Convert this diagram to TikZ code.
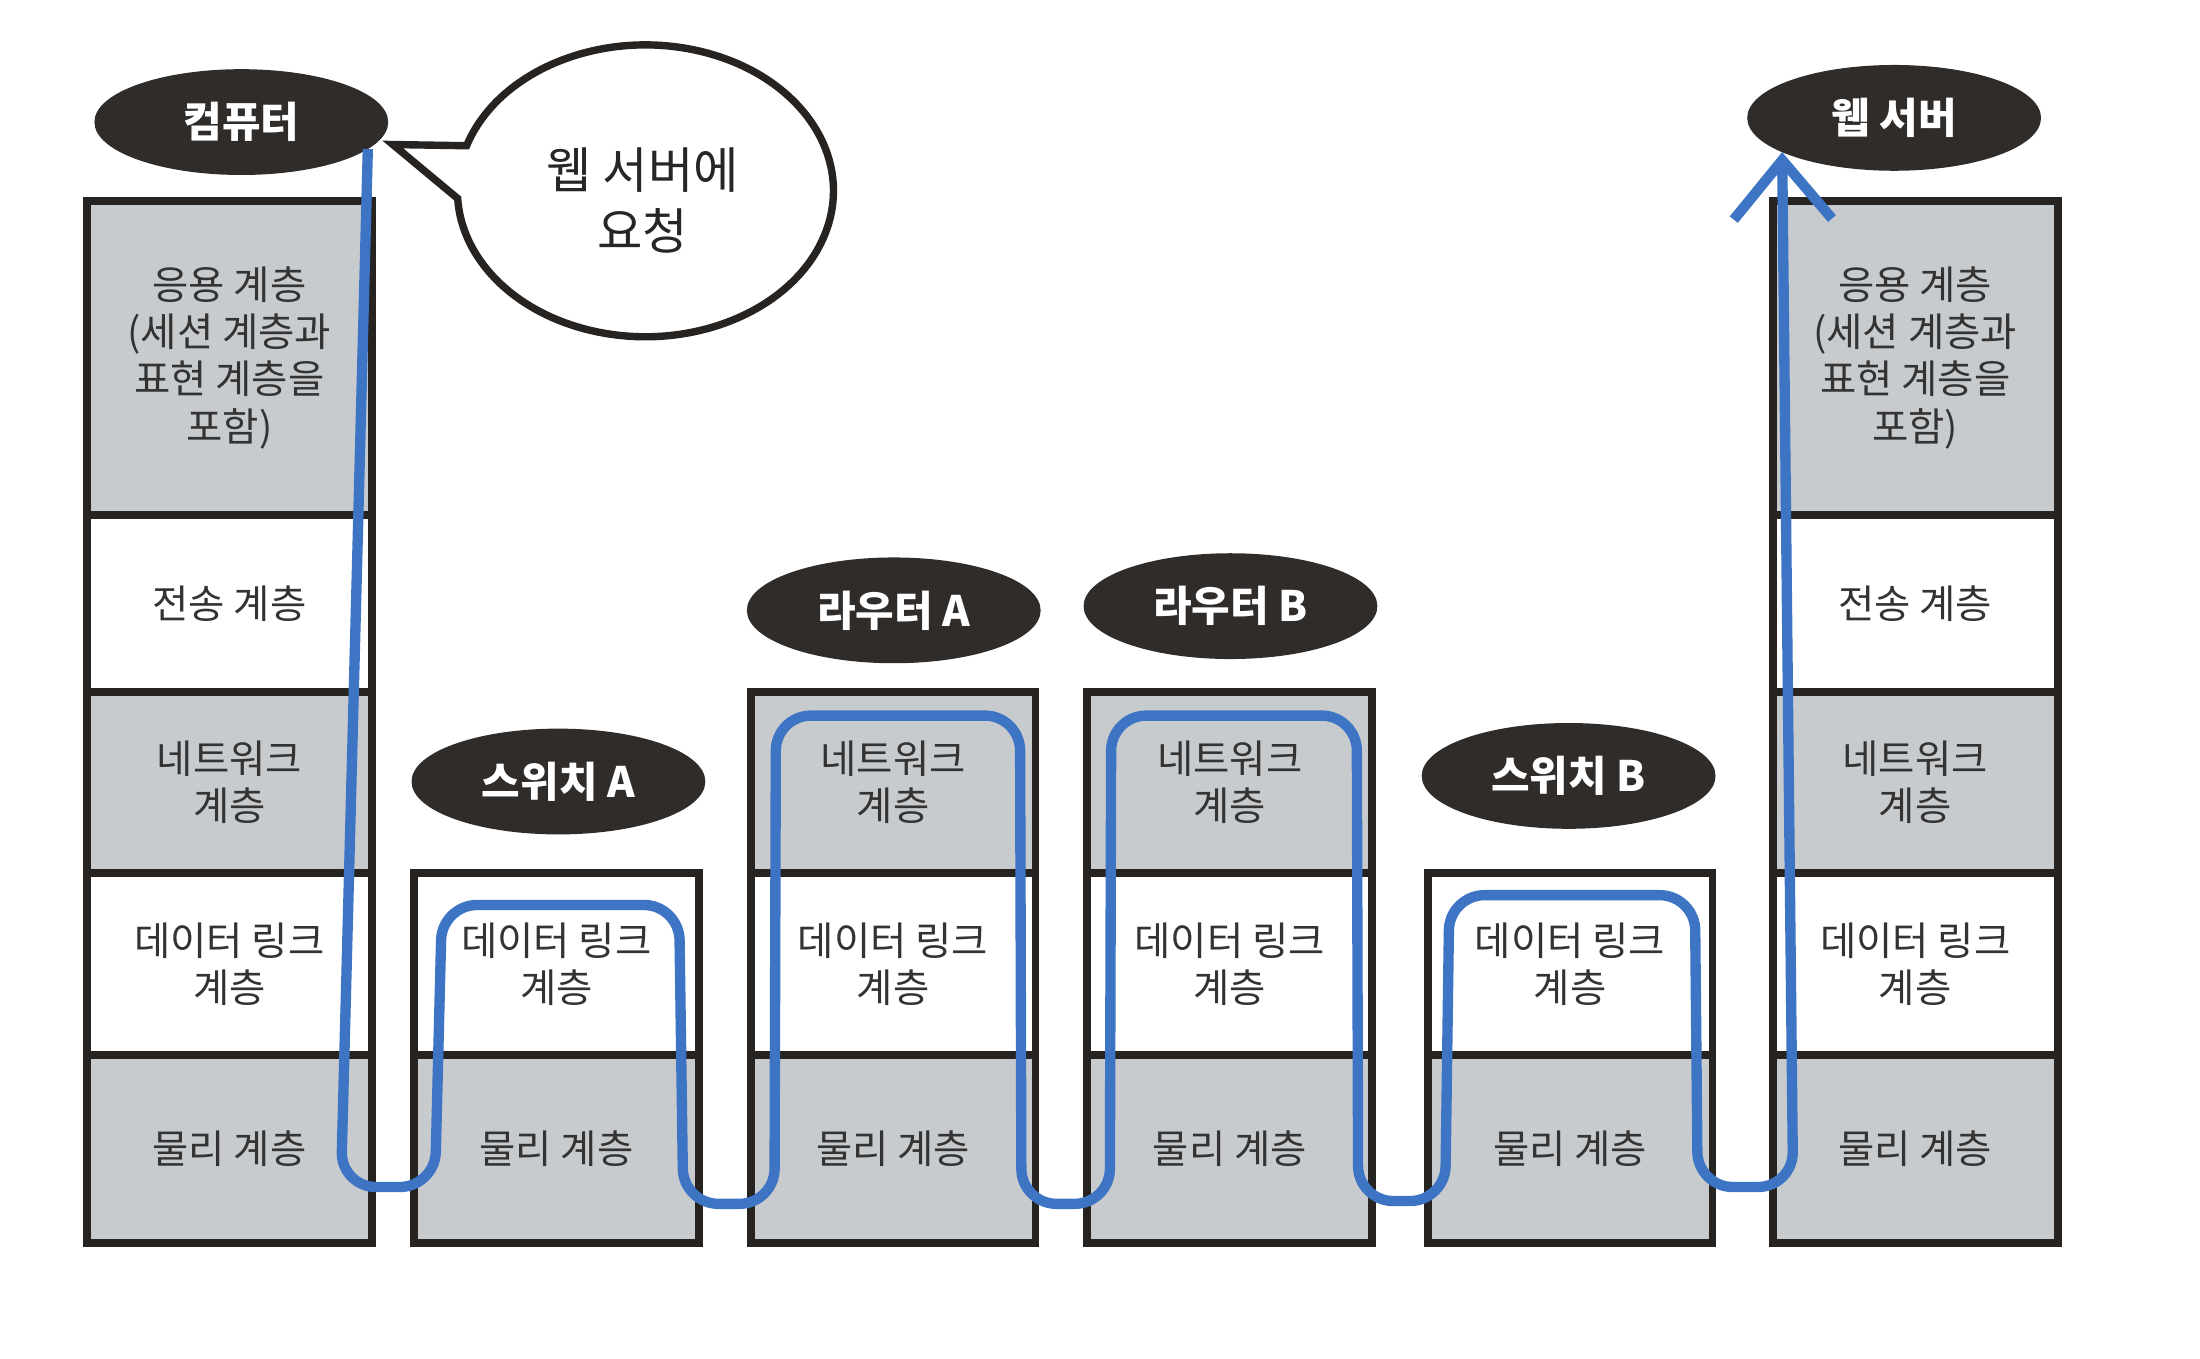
\documentclass[tikz,border=0pt]{standalone}
\usepackage{fontspec}
\setmainfont{Noto Sans CJK KR}
\usetikzlibrary{shapes.geometric,arrows.meta,calc}

\definecolor{inkblack}{RGB}{38,35,33}
\definecolor{layergray}{RGB}{200,203,206}
\definecolor{pathblue}{RGB}{62,116,196}
\definecolor{tagfill}{RGB}{48,44,42}

\begin{document}
\begin{tikzpicture}[x=0.1mm,y=-0.1mm]
	\tikzstyle{every node}+=[inner sep=0pt]
	\tikzstyle{layer}=[draw=inkblack, line width=1.6pt, minimum width=20.3mm, align=center, text=black!80, font=\fontsize{8}{9.6}\selectfont]
	\tikzstyle{shaded}=[layer, fill=layergray]
	\tikzstyle{plain}=[layer, fill=white]
	\tikzstyle{tag}=[ellipse, fill=tagfill, draw=tagfill, text=white, minimum width=20.8mm, minimum height=7.4mm, font=\fontsize{8.5}{10}\selectfont\bfseries]
	\tikzstyle{route}=[pathblue, line width=2.1pt, rounded corners=2.5mm]
	\useasboundingbox (0,0) rectangle (1568,968);
	% computer
	\node [tag] (pc) at (172,87) {컴퓨터};
	\node [shaded, minimum height=22.4mm] (pc-app) at (163.5,255) {응용 계층\\(세션 계층과\\표현 계층을\\포함)};
	\node [plain, minimum height=12.6mm] (pc-tr) at (163.5,430) {전송 계층};
	\node [shaded, minimum height=12.9mm] (pc-net) at (163.5,557.5) {네트워크\\계층};
	\node [plain, minimum height=13mm] (pc-dl) at (163.5,687) {데이터 링크\\계층};
	\node [shaded, minimum height=13.4mm] (pc-phy) at (163.5,819) {물리 계층};
	% speech bubble
	\coordinate (bc) at (460,136);
	\coordinate (tip) at (280,103);
	\draw [inkblack, line width=1.5pt, fill=white] (tip) -- ($(bc)+(162:13.4mm and 10.4mm)$) arc [start angle=162, end angle=-177, x radius=13.4mm, y radius=10.4mm] -- cycle;
	\node [align=center, text=black!85, font=\fontsize{10}{12.4}\selectfont] (req) at (458,143) {웹 서버에\\요청};
	% switch A
	\node [tag] (swA) at (398,557) {스위치 A};
	\node [plain, minimum height=13mm] (swA-dl) at (396.5,687) {데이터 링크\\계층};
	\node [shaded, minimum height=13.4mm] (swA-phy) at (396.5,819) {물리 계층};
	% router A
	\node [tag] (rtA) at (637,435) {라우터 A};
	\node [shaded, minimum height=12.9mm] (rtA-net) at (636.5,557.5) {네트워크\\계층};
	\node [plain, minimum height=13mm] (rtA-dl) at (636.5,687) {데이터 링크\\계층};
	\node [shaded, minimum height=13.4mm] (rtA-phy) at (636.5,819) {물리 계층};
	% router B
	\node [tag] (rtB) at (877,432) {라우터 B};
	\node [shaded, minimum height=12.9mm] (rtB-net) at (876.5,557.5) {네트워크\\계층};
	\node [plain, minimum height=13mm] (rtB-dl) at (876.5,687) {데이터 링크\\계층};
	\node [shaded, minimum height=13.4mm] (rtB-phy) at (876.5,819) {물리 계층};
	% switch B
	\node [tag] (swB) at (1118,553) {스위치 B};
	\node [plain, minimum height=13mm] (swB-dl) at (1119,687) {데이터 링크\\계층};
	\node [shaded, minimum height=13.4mm] (swB-phy) at (1119,819) {물리 계층};
	% web server
	\node [tag] (ws) at (1350,84) {웹 서버};
	\node [shaded, minimum height=22.4mm] (ws-app) at (1365,255) {응용 계층\\(세션 계층과\\표현 계층을\\포함)};
	\node [plain, minimum height=12.6mm] (ws-tr) at (1365,430) {전송 계층};
	\node [shaded, minimum height=12.9mm] (ws-net) at (1365,557.5) {네트워크\\계층};
	\node [plain, minimum height=13mm] (ws-dl) at (1365,687) {데이터 링크\\계층};
	\node [shaded, minimum height=13.4mm] (ws-phy) at (1365,819) {물리 계층};
	% route
	\draw [route, -{Straight Barb[length=4.2mm, width=7mm]}] (pc.-12) -- (243,846) -- (310,846) -- (315,645) -- (484,645) -- (487,858) -- (552,858) -- (553,510) -- (727,510) -- (728,858) -- (791,858) -- (792,510) -- (967,510) -- (968,856) -- (1030,856) -- (1033,638) -- (1208,638) -- (1210,846) -- (1278,846) -- (ws.197);
\end{tikzpicture}
\end{document}
